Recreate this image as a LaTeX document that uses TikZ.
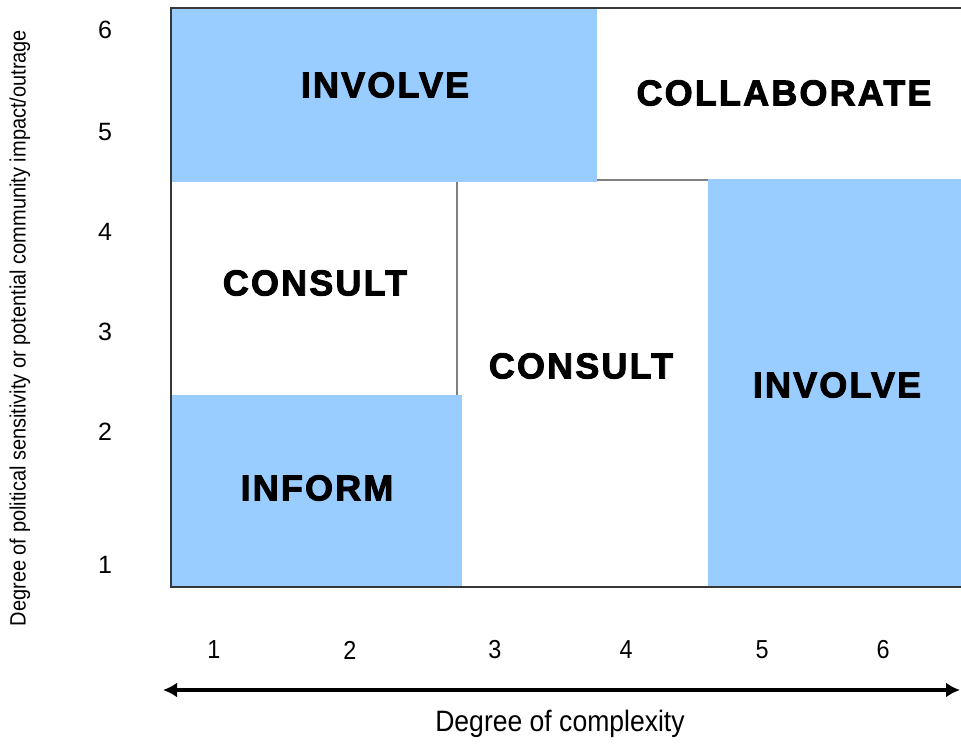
\documentclass[tikz,border=0pt]{standalone}
\usepackage{fontspec}
\setmainfont{Liberation Sans}
\newfontfamily\heavyfont[FakeBold=2.5,LetterSpace=6]{Liberation Sans Bold}
\newfontfamily\narrowfont[FakeStretch=0.9]{Liberation Sans}
\usetikzlibrary{arrows.meta,positioning,calc}
\usepackage{xcolor}
\definecolor{zoneblue}{RGB}{153,204,255}
\definecolor{framegray}{RGB}{55,55,55}

\begin{document}
\begin{tikzpicture}[x=1pt, y=-1pt,
    zone/.style={fill=zoneblue, draw=none},
    lab/.style={font=\heavyfont\fontsize{36}{40}\selectfont},
    tick/.style={font=\fontsize{25}{28}\selectfont},
    xtick/.style={font=\narrowfont\fontsize{26}{30}\selectfont},
    axis/.style={font=\narrowfont\fontsize{29.5}{32}\selectfont}]
    \useasboundingbox (0,0) rectangle (961,744);

    % Zones
    \fill[zone] (171,8) rectangle (597,182);
    \fill[zone] (171,395) rectangle (462,587);
    \fill[zone] (708,179) rectangle (961,587);

    % Frame and dividers
    \draw[framegray, line width=2pt] (961,8) -- (171,8) -- (171,587) -- (961,587);
    \draw[gray, line width=1.2pt] (597,180) -- (708,180);
    \draw[gray, line width=1.2pt] (457,182) -- (457,395);

    % Zone labels
    \node[lab] (invtop) at (385,85) {INVOLVE};
    \node[lab] (collab) at (784,93) {COLLABORATE};
    \node[lab] (conleft) at (315,283) {CONSULT};
    \node[lab] (conmid) at (581,366) {CONSULT};
    \node[lab] (invright) at (837,385) {INVOLVE};
    \node[lab] (inform) at (317,488) {INFORM};

    % Axis numbers
    \foreach \n/\y in {1/565, 2/432, 3/332, 4/232, 5/132, 6/30}
        \node[tick] (y\n) at (105,\y) {\n};
    \foreach \n/\x in {1/214, 2/350, 3/495, 4/626, 5/762, 6/883}
        \node[xtick] (x\n) at (\x,650) {\n};

    % Complexity arrow
    \coordinate (left) at (163,690);
    \coordinate (right) at (960,690);
    \draw[{Latex[length=14pt,width=15pt]}-{Latex[length=14pt,width=15pt]}, line width=3.5pt] (left) -- (right);

    % Axis titles
    \node[axis] (xtitle) at (560,724) {Degree of complexity};
    \node[axis, rotate=90, font=\narrowfont\fontsize{22.2}{24}\selectfont] (ytitle) at (20,328)
        {Degree of political sensitivity or potential community impact/outrage};
\end{tikzpicture}
\end{document}
